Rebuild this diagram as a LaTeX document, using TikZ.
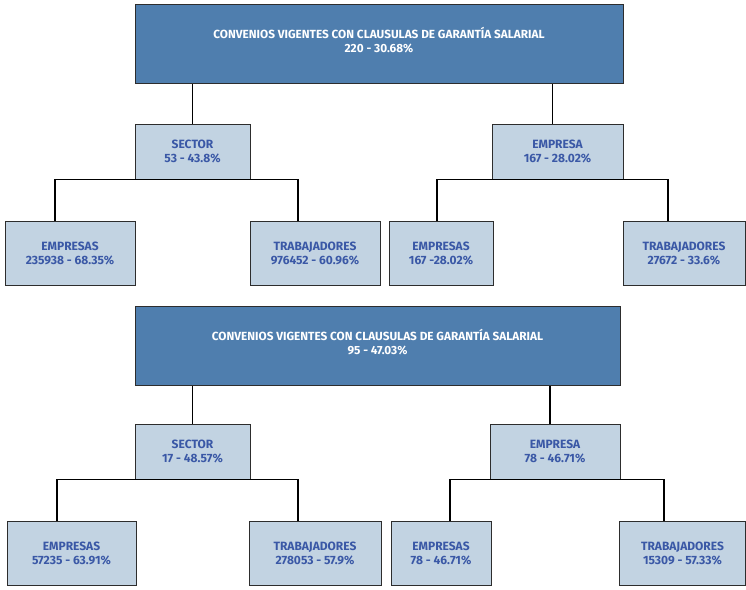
\documentclass[tikz,border=0pt]{standalone}
\usepackage{fontspec}
\setmainfont{Fira Sans}
\usepackage{tikz}
\usetikzlibrary{shadows}
\definecolor{headBlue}{RGB}{79, 126, 174}
\definecolor{cellBlue}{RGB}{194, 211, 226}
\definecolor{textBlue}{RGB}{58, 88, 166}
\definecolor{edgeGray}{RGB}{45, 45, 45}

\tikzset{
  headbox/.style={draw=edgeGray, line width=1pt, fill=headBlue, text=white,
    font=\fontsize{11.8}{14}\selectfont\bfseries, align=center,
    drop shadow={shadow xshift=1pt, shadow yshift=-1pt, fill=black!20}},
  cellbox/.style={draw=edgeGray, line width=1pt, fill=cellBlue, text=textBlue,
    font=\fontsize{12}{14}\selectfont\bfseries, align=center,
    drop shadow={shadow xshift=1pt, shadow yshift=-1pt, fill=black!20}},
  link/.style={line width=1.1pt, black}
}

\begin{document}
\begin{tikzpicture}[x=1pt, y=-1pt]
      \useasboundingbox (0,0) rectangle (746,589);

      % First tree
      \node[headbox, minimum width=488pt, minimum height=79pt] (top1) at (379,43.5)
        {CONVENIOS VIGENTES CON CLAUSULAS DE GARANTÍA SALARIAL\\220 - 30.68\%\\[-7pt]};
      \node[cellbox, minimum width=115pt, minimum height=55pt] (sec1) at (192.5,151.5)
        {SECTOR\\53 - 43.8\%};
      \node[cellbox, minimum width=131pt, minimum height=55pt] (emp1) at (557.5,151.5)
        {EMPRESA\\167 - 28.02\%};
      \node[cellbox, minimum width=130pt, minimum height=64pt] (sec1e) at (70,253)
        {EMPRESAS\\235938 - 68.35\%};
      \node[cellbox, minimum width=130pt, minimum height=64pt] (sec1t) at (315,253)
        {TRABAJADORES\\976452 - 60.96\%};
      \node[cellbox, minimum width=104pt, minimum height=64pt] (emp1e) at (441,253)
        {EMPRESAS\\167 -28.02\%};
      \node[cellbox, minimum width=122pt, minimum height=64pt] (emp1t) at (684,253)
        {TRABAJADORES\\27672 - 33.6\%};

      \draw[link] (sec1.north) -- (sec1.north |- top1.south);
      \draw[link] ([xshift=-5pt]emp1.north) -- ([xshift=-5pt]emp1.north |- top1.south);
      \draw[link] ([xshift=-15pt]sec1e.north) |- (sec1.south) -| ([xshift=-17pt]sec1t.north);
      \draw[link] ([xshift=-4pt]emp1e.north) |- (emp1.south) -| ([xshift=-16pt]emp1t.north);

      % Second tree
      \node[headbox, minimum width=485pt, minimum height=79pt] (top2) at (377.5,345.5)
        {CONVENIOS VIGENTES CON CLAUSULAS DE GARANTÍA SALARIAL\\95 - 47.03\%\\[-7pt]};
      \node[cellbox, minimum width=115pt, minimum height=55pt] (sec2) at (192.5,451.5)
        {SECTOR\\17 - 48.57\%};
      \node[cellbox, minimum width=130pt, minimum height=55pt] (emp2) at (555,451.5)
        {EMPRESA\\78 - 46.71\%};
      \node[cellbox, minimum width=129pt, minimum height=64pt] (sec2e) at (71.5,553)
        {EMPRESAS\\57235 - 63.91\%};
      \node[cellbox, minimum width=132pt, minimum height=64pt] (sec2t) at (315,553)
        {TRABAJADORES\\278053 - 57.9\%};
      \node[cellbox, minimum width=100pt, minimum height=64pt] (emp2e) at (441,553)
        {EMPRESAS\\78 - 46.71\%};
      \node[cellbox, minimum width=126pt, minimum height=64pt] (emp2t) at (682.5,553)
        {TRABAJADORES\\15309 - 57.33\%};

      \draw[link] (sec2.north) -- (sec2.north |- top2.south);
      \draw[link] ([xshift=-5pt]emp2.north) -- ([xshift=-5pt]emp2.north |- top2.south);
      \draw[link] ([xshift=-14.5pt]sec2e.north) |- (sec2.south) -| ([xshift=-17pt]sec2t.north);
      \draw[link] ([xshift=9pt]emp2e.north) |- (emp2.south) -| ([xshift=-18.5pt]emp2t.north);
    \end{tikzpicture}
\end{document}
